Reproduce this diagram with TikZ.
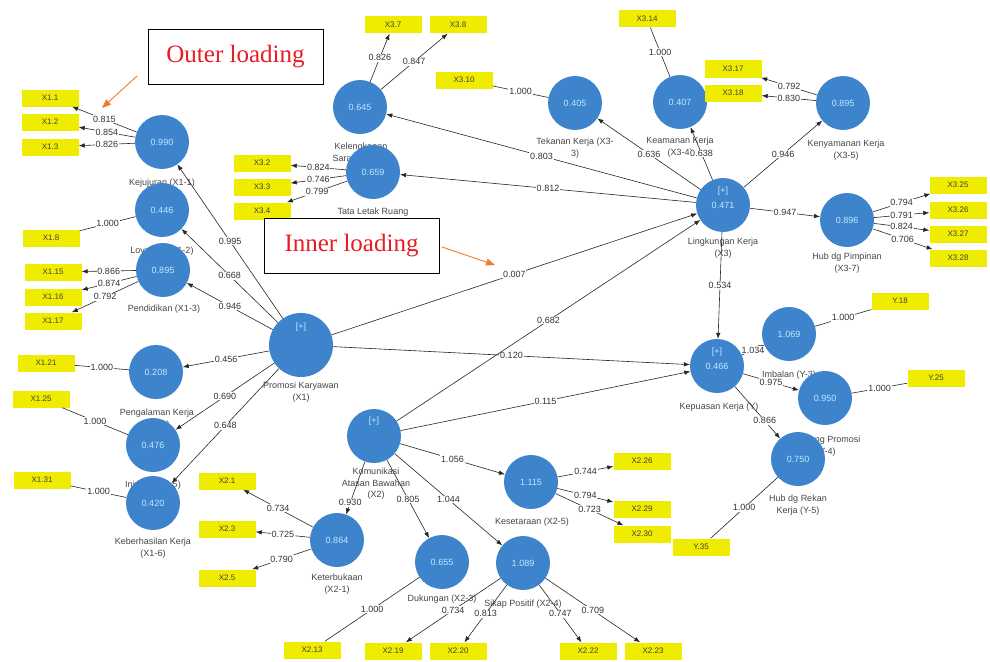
\documentclass[tikz,border=0pt]{standalone}
\usepackage{fontspec}
\setmainfont{Liberation Sans}
\newfontfamily\notefont{Liberation Serif}
\usetikzlibrary{arrows.meta}

\definecolor{lvblue}{RGB}{62,132,204}
\definecolor{lvtext}{RGB}{190,232,255}
\definecolor{mvyellow}{RGB}{240,236,0}
\definecolor{noteorange}{RGB}{237,125,49}
\definecolor{notered}{RGB}{232,28,36}
\definecolor{captgray}{RGB}{70,70,70}

\tikzset{
  lv/.style={circle, fill=lvblue, minimum size=54pt, inner sep=0pt, text=lvtext, font=\fontsize{9}{10}\selectfont},
  lvbig/.style={lv, minimum size=64pt},
  plus/.style={text=lvtext, inner sep=0pt, font=\fontsize{9}{10}\selectfont},
  mv/.style={rectangle, fill=mvyellow, minimum width=57pt, minimum height=17pt, inner sep=0pt, text=black!75, font=\fontsize{8}{9}\selectfont},
  capt/.style={align=center, text=captgray, inner sep=0pt, font=\fontsize{9}{11.5}\selectfont},
  coef/.style={fill=white, inner sep=0.8pt, text=black!80, font=\fontsize{9}{10}\selectfont},
  struct/.style={draw=black!85, line width=0.6pt, -{Latex[length=6pt,width=4.5pt]}},
  loadarrow/.style={struct},
  single/.style={draw=black!85, line width=0.6pt},
  notebox/.style={draw=black, line width=0.9pt, fill=white, minimum width=175pt, minimum height=55pt, inner sep=0pt, text=notered, font=\notefont\fontsize{25}{28}\selectfont},
  notearrow/.style={draw=noteorange, line width=0.9pt, -{Triangle[length=9pt,width=7pt]}}
}

\begin{document}
\begin{tikzpicture}[x=1pt,y=-1pt]
\useasboundingbox (0,0) rectangle (990,661);
\fill[white] (0,0) rectangle (990,661);

% Caption texts (drawn first, circles lie over them)
\node[capt] (capkej) at (162,183) {Kejujuran (X1-1)};
\node[capt] (caployal) at (162,251) {Loyalitas (X1-2)};
\node[capt] (cappend) at (164,309) {Pendidikan (X1-3)};
\node[capt] (cappeng) at (157,419) {Pengalaman Kerja\\(X1-4)};
\node[capt] (capinis) at (153,485) {Inisiatif (X1-5)};
\node[capt] (capkeb) at (153,548) {Keberhasilan Kerja\\(X1-6)};
\node[capt] (cappromosi) at (301,392) {Promosi Karyawan\\(X1)};
\node[capt] (capkel) at (361,153) {Kelengkapan\\Sarana (X3-2)};
\node[capt] (captata) at (373,212) {Tata Letak Ruang};
\node[capt] (captek) at (575,148) {Tekanan Kerja (X3-\\3)};
\node[capt] (capkeam) at (680,147) {Keamanan Kerja\\(X3-4)};
\node[capt] (capkeny) at (846,150) {Kenyamanan Kerja\\(X3-5)};
\node[capt] (capling) at (723,248) {Lingkungan Kerja\\(X3)};
\node[capt] (caphubpim) at (847,263) {Hub dg Pimpinan\\(X3-7)};
\node[capt] (capkepuasan) at (719,407) {Kepuasan Kerja (Y)};
\node[capt] (capimb) at (789,375) {Imbalan (Y-3)};
\node[capt] (cappel) at (826,446) {Peluang Promosi\\(Y-4)};
\node[capt] (caphubrek) at (798,505) {Hub dg Rekan\\Kerja (Y-5)};
\node[capt] (capkomun) at (376,484) {Komunikasi\\Atasan Bawahan\\(X2)};
\node[capt] (capketerb) at (337,584) {Keterbukaan\\(X2-1)};
\node[capt] (capduk) at (442,599) {Dukungan (X2-3)};
\node[capt] (capsikap) at (523,604) {Sikap Positif (X2-4)};
\node[capt] (capkeset) at (532,522) {Kesetaraan (X2-5)};

% Latent variables
\node[lv] (kej) at (162,142) {0.990};
\node[lv] (loy) at (162,210) {0.446};
\node[lv] (pend) at (163,270) {0.895};
\node[lv] (peng) at (156,372) {0.208};
\node[lv] (inis) at (153,445) {0.476};
\node[lv] (keb) at (153,503) {0.420};
\node[lvbig] (promosi) at (301,345) {};
\node[plus] (promosiplus) at ([yshift=18pt]promosi.center) {[+]};
\node[lv] (kel) at (360,107) {0.645};
\node[lv] (tata) at (373,172) {0.659};
\node[lv] (tek) at (575,103) {0.405};
\node[lv] (keam) at (680,102) {0.407};
\node[lv] (keny) at (843,103) {0.895};
\node[lv] (ling) at (723,205) {0.471};
\node[plus] (lingplus) at ([yshift=14pt]ling.center) {[+]};
\node[lv] (hubpim) at (847,220) {0.896};
\node[lv] (kepuasan) at (717,366) {0.466};
\node[plus] (kepuasanplus) at ([yshift=14pt]kepuasan.center) {[+]};
\node[lv] (imb) at (789,334) {1.069};
\node[lv] (pel) at (825,398) {0.950};
\node[lv] (hubrek) at (798,459) {0.750};
\node[lv] (komun) at (374,436) {};
\node[plus] (komunplus) at ([yshift=15pt]komun.center) {[+]};
\node[lv] (keterb) at (337,540) {0.864};
\node[lv] (duk) at (442,562) {0.655};
\node[lv] (sikap) at (523,563) {1.089};
\node[lv] (keset) at (531,482) {1.115};

% Indicators
\node[mv] (x11) at (50,98) {X1.1};
\node[mv] (x12) at (50,122) {X1.2};
\node[mv] (x13) at (50,147) {X1.3};
\node[mv] (x18) at (51,238) {X1.8};
\node[mv] (x115) at (53,272) {X1.15};
\node[mv] (x116) at (53,297) {X1.16};
\node[mv] (x117) at (53,321) {X1.17};
\node[mv] (x121) at (46,363) {X1.21};
\node[mv] (x125) at (41,399) {X1.25};
\node[mv] (x131) at (42,480) {X1.31};
\node[mv] (x21) at (227,481) {X2.1};
\node[mv] (x23) at (227,529) {X2.3};
\node[mv] (x25) at (227,578) {X2.5};
\node[mv] (x213) at (312,650) {X2.13};
\node[mv] (x219) at (393,651) {X2.19};
\node[mv] (x220) at (458,651) {X2.20};
\node[mv] (x222) at (588,651) {X2.22};
\node[mv] (x223) at (653,651) {X2.23};
\node[mv] (x226) at (642,461) {X2.26};
\node[mv] (x229) at (642,509) {X2.29};
\node[mv] (x230) at (642,534) {X2.30};
\node[mv] (x32) at (262,163) {X3.2};
\node[mv] (x33) at (262,187) {X3.3};
\node[mv] (x34) at (262,211) {X3.4};
\node[mv] (x37) at (393,25) {X3.7};
\node[mv] (x38) at (458,25) {X3.8};
\node[mv] (x310) at (464,80) {X3.10};
\node[mv] (x314) at (647,19) {X3.14};
\node[mv] (x317) at (733,69) {X3.17};
\node[mv] (x318) at (733,93) {X3.18};
\node[mv] (x325) at (958,185) {X3.25};
\node[mv] (x326) at (958,210) {X3.26};
\node[mv] (x327) at (958,234) {X3.27};
\node[mv] (x328) at (958,258) {X3.28};
\node[mv] (y18) at (900,301) {Y.18};
\node[mv] (y25) at (936,378) {Y.25};
\node[mv] (y35) at (701,547) {Y.35};

% Inner model
\draw[struct] (promosi) -- node[coef]{0.995} (kej);
\draw[struct] (promosi) -- node[coef]{0.668} (loy);
\draw[struct] (promosi) -- node[coef]{0.946} (pend);
\draw[struct] (promosi) -- node[coef]{0.456} (peng);
\draw[struct] (promosi) -- node[coef]{0.690} (inis);
\draw[struct] (promosi) -- node[coef]{0.648} (keb);
\draw[struct] (promosi) -- node[coef]{0.007} (ling);
\draw[struct] (promosi) -- node[coef]{0.120} (kepuasan);
\draw[struct] (komun) -- node[coef]{0.682} (ling);
\draw[struct] (komun) -- node[coef]{0.115} (kepuasan);
\draw[struct] (komun) -- node[coef,pos=0.78]{0.930} (keterb);
\draw[struct] (komun) -- node[coef]{0.805} (duk);
\draw[struct] (komun) -- node[coef]{1.044} (sikap);
\draw[struct] (komun) -- node[coef]{1.056} (keset);
\draw[struct] (ling) -- node[coef]{0.803} (kel);
\draw[struct] (ling) -- node[coef]{0.812} (tata);
\draw[struct] (ling) -- node[coef]{0.636} (tek);
\draw[struct] (ling) -- node[coef]{0.638} (keam);
\draw[struct] (ling) -- node[coef]{0.946} (keny);
\draw[struct] (ling) -- node[coef]{0.947} (hubpim);
\draw[struct] (ling) -- node[coef]{0.534} (kepuasan);
\draw[struct] (kepuasan) -- node[coef]{1.034} (imb);
\draw[struct] (kepuasan) -- node[coef]{0.975} (pel);
\draw[struct] (kepuasan) -- node[coef,pos=0.66]{0.866} (hubrek);

% Outer model
\draw[loadarrow] (kej) -- node[coef]{0.815} (x11);
\draw[loadarrow] (kej) -- node[coef]{0.854} (x12);
\draw[loadarrow] (kej) -- node[coef]{0.826} (x13);
\draw[single] (loy) -- node[coef]{1.000} (x18);
\draw[loadarrow] (pend) -- node[coef]{0.866} (x115);
\draw[loadarrow] (pend) -- node[coef]{0.874} (x116);
\draw[loadarrow] (pend) -- node[coef]{0.792} (x117);
\draw[single] (peng) -- node[coef]{1.000} (x121);
\draw[single] (inis) -- node[coef]{1.000} (x125);
\draw[single] (keb) -- node[coef]{1.000} (x131);
\draw[loadarrow] (kel) -- node[coef]{0.826} (x37);
\draw[loadarrow] (kel) -- node[coef]{0.847} (x38);
\draw[loadarrow] (tata) -- node[coef]{0.824} (x32);
\draw[loadarrow] (tata) -- node[coef]{0.746} (x33);
\draw[loadarrow] (tata) -- node[coef]{0.799} (x34);
\draw[single] (tek) -- node[coef]{1.000} (x310);
\draw[single] (keam) -- node[coef]{1.000} (x314);
\draw[loadarrow] (keny) -- node[coef]{0.792} (x317);
\draw[loadarrow] (keny) -- node[coef]{0.830} (x318);
\draw[loadarrow] (hubpim) -- node[coef]{0.794} (x325);
\draw[loadarrow] (hubpim) -- node[coef]{0.791} (x326);
\draw[loadarrow] (hubpim) -- node[coef]{0.824} (x327);
\draw[loadarrow] (hubpim) -- node[coef]{0.706} (x328);
\draw[single] (imb) -- node[coef]{1.000} (y18);
\draw[single] (pel) -- node[coef]{1.000} (y25);
\draw[single] (hubrek) -- node[coef]{1.000} (y35);
\draw[loadarrow] (keterb) -- node[coef]{0.734} (x21);
\draw[loadarrow] (keterb) -- node[coef]{0.725} (x23);
\draw[loadarrow] (keterb) -- node[coef]{0.790} (x25);
\draw[single] (duk) -- node[coef]{1.000} (x213);
\draw[loadarrow] (sikap) -- node[coef]{0.734} (x219);
\draw[loadarrow] (sikap) -- node[coef]{0.813} (x220);
\draw[loadarrow] (sikap) -- node[coef]{0.747} (x222);
\draw[loadarrow] (sikap) -- node[coef]{0.709} (x223);
\draw[loadarrow] (keset) -- node[coef]{0.744} (x226);
\draw[loadarrow] (keset) -- node[coef]{0.794} (x229);
\draw[loadarrow] (keset) -- node[coef]{0.723} (x230);

% Notes
\node[notebox] (outernote) at (235.5,57) {Outer loading};
\node[notebox] (innernote) at (351.5,245.5) {Inner loading};
\coordinate (outertail) at (137,76);
\coordinate (outertip) at (102,108);
\coordinate (innertail) at (442,247);
\coordinate (innertip) at (495,265);
\draw[notearrow] (outertail) -- (outertip);
\draw[notearrow] (innertail) -- (innertip);

\end{tikzpicture}
\end{document}
